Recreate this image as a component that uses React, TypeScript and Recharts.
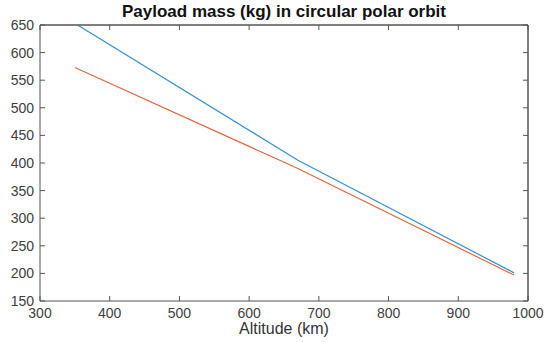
import React from 'react';
import { LineChart, Line, XAxis, YAxis, Label, ReferenceLine } from 'recharts';

// altitude (km) and payload mass (kg) for the two cases
const altitudes = [350, 670, 980];
const massA = [653, 405, 201];
const massB = [573, 390, 197];

const xTicks = [300, 400, 500, 600, 700, 800, 900, 1000];
const yTicks = [150, 200, 250, 300, 350, 400, 450, 500, 550, 600, 650];

const data = altitudes.map((alt, i) => ({ alt, a: massA[i], b: massB[i] }));

const font = '"Liberation Sans", Arial, sans-serif';
const axisColor = '#555';
const labelColor = '#404040';
const TICK = 5;
const X_MARGIN = 7;
const Y_MARGIN = 6;

// MATLAB style: tick marks point into the plot
const BottomTick = (props: any) => {
  const { x, y, payload } = props;
  const axisY = y - X_MARGIN;
  return (
    <g>
      <line x1={x} x2={x} y1={axisY} y2={axisY - TICK} stroke={axisColor} />
      <text x={x} y={y} dy="0.71em" textAnchor="middle" fontSize={14} fill={labelColor} fontFamily={font}>
        {payload.value}
      </text>
    </g>
  );
};

const LeftTick = (props: any) => {
  const { x, y, payload } = props;
  const axisX = x + Y_MARGIN;
  return (
    <g>
      <line x1={axisX} x2={axisX + TICK} y1={y} y2={y} stroke={axisColor} />
      <text x={x} y={y} dy="0.355em" textAnchor="end" fontSize={14} fill={labelColor} fontFamily={font}>
        {payload.value}
      </text>
    </g>
  );
};

const TopTick = (props: any) => {
  const { x, y } = props;
  return <line x1={x} x2={x} y1={y} y2={y + TICK} stroke={axisColor} />;
};

const RightTick = (props: any) => {
  const { x, y } = props;
  return <line x1={x} x2={x - TICK} y1={y} y2={y} stroke={axisColor} />;
};

const App: React.FC = () => {
  return (
    <div style={{ position: 'absolute', top: 0, left: 0, width: 550, height: 342, background: '#fff' }}>
      <div
        style={{
          position: 'absolute',
          left: 40,
          width: 488,
          top: 2,
          textAlign: 'center',
          fontFamily: font,
          fontWeight: 'bold',
          fontSize: 17,
          color: '#111',
        }}
      >
        Payload mass (kg) in circular polar orbit
      </div>
      <LineChart width={550} height={342} data={data} margin={{ top: 24, right: 21, bottom: 0, left: 0 }}>
        <XAxis
          dataKey="alt"
          type="number"
          domain={[300, 1000]}
          ticks={xTicks}
          height={41}
          stroke={axisColor}
          tickLine={false}
          tickSize={0}
          tickMargin={X_MARGIN}
          tick={BottomTick}
        >
          <Label
            value="Altitude (km)"
            position="insideBottom"
            offset={8}
            style={{ fontSize: 16, fill: '#333', fontFamily: font }}
          />
        </XAxis>
        <XAxis
          xAxisId="top"
          orientation="top"
          dataKey="alt"
          type="number"
          domain={[300, 1000]}
          ticks={xTicks}
          height={1}
          stroke={axisColor}
          tickLine={false}
          tickSize={0}
          tickMargin={0}
          tick={TopTick}
        />
        <YAxis
          type="number"
          domain={[150, 650]}
          ticks={yTicks}
          allowDataOverflow
          width={40}
          stroke={axisColor}
          tickLine={false}
          tickSize={0}
          tickMargin={Y_MARGIN}
          tick={LeftTick}
        />
        <YAxis
          yAxisId="right"
          orientation="right"
          type="number"
          domain={[150, 650]}
          ticks={yTicks}
          allowDataOverflow
          width={1}
          stroke={axisColor}
          tickLine={false}
          tickSize={0}
          tickMargin={0}
          tick={RightTick}
        />
        <ReferenceLine y={650} stroke={axisColor} />
        <ReferenceLine x={1000} stroke={axisColor} />
        <Line
          type="linear"
          dataKey="a"
          stroke="#3590d0"
          strokeWidth={1.2}
          dot={false}
          isAnimationActive={false}
        />
        <Line
          type="linear"
          dataKey="b"
          stroke="#dc6840"
          strokeWidth={1.2}
          dot={false}
          isAnimationActive={false}
        />
      </LineChart>
    </div>
  );
};

export default App;
